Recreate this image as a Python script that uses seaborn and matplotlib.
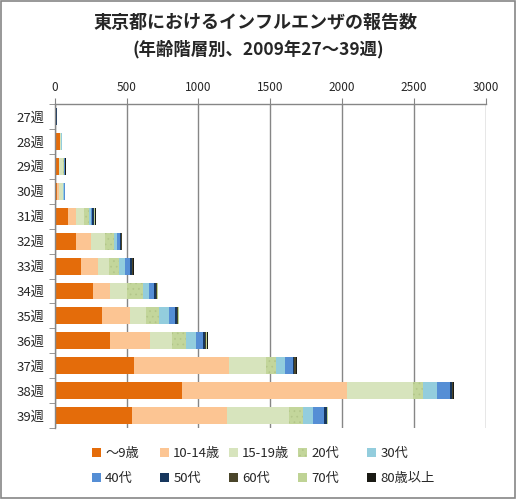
import numpy as np
import pandas as pd
import matplotlib
matplotlib.use("Agg")
import matplotlib.pyplot as plt
from matplotlib.patches import Patch, Rectangle
import seaborn as sns

# -------- data --------
weeks = ["27週", "28週", "29週", "30週", "31週", "32週", "33週",
         "34週", "35週", "36週", "37週", "38週", "39週"]
age_groups = ["～9歳", "10-14歳", "15-19歳", "20代", "30代",
              "40代", "50代", "60代", "70代", "80歳以上"]

under9 = [3, 37, 30, 16, 93, 148, 183, 267, 329, 385, 552, 886, 538]
age10_14 = [2, 1, 3, 14, 53, 105, 119, 118, 195, 279, 661, 1149, 661]
age15_19 = [2, 3, 25, 25, 56, 97, 76, 118, 112, 153, 258, 461, 430]
age20s = [2, 2, 5, 5, 37, 63, 70, 112, 90, 97, 69, 65, 99]
age30s = [2, 6, 5, 6, 14, 21, 42, 42, 70, 70, 63, 98, 70]
age40s = [1, 1, 2, 4, 8, 21, 34, 34, 42, 48, 56, 93, 77]
age50s = [1, 0, 1, 2, 10, 6, 14, 14, 16, 17, 4, 16, 18]
age60s = [4, 1, 4, 1, 6, 5, 4, 8, 4, 6, 14, 4, 4]
age70s = [1, 0, 0, 1, 3, 2, 4, 3, 5, 6, 2, 3, 2]
age80plus = [1, 0, 2, 1, 5, 3, 4, 6, 2, 6, 8, 2, 1]

colors = ["#E46C0A", "#FCC593", "#D7E4BD", "#C3D69B", "#93CDDD",
          "#558ED5", "#17375E", "#4A452A", "#BFD395", "#1A1A14"]
dot_color = "#B3C68A"

df = pd.DataFrame({"week": weeks})
for name, vals in zip(age_groups, [under9, age10_14, age15_19, age20s, age30s,
                                   age40s, age50s, age60s, age70s, age80plus]):
    df[name] = vals
cum = df[age_groups].cumsum(axis=1)

# -------- plot --------
sns.set_style("white")
plt.rcParams["font.family"] = ["Noto Sans CJK JP", "DejaVu Sans"]
plt.rcParams["hatch.linewidth"] = 0.5

fig = plt.figure(figsize=(5.16, 4.99), dpi=100)
ax = fig.add_axes([0.106, 0.142, 0.8353, 0.6496])

# stacked bars: draw cumulative totals from the largest down
for i in range(len(age_groups) - 1, -1, -1):
    kw = {}
    if age_groups[i] == "20代":
        kw = dict(hatch="...", edgecolor=dot_color)
    sns.barplot(x=cum[age_groups[i]], y=df["week"], orient="h",
                color=colors[i], width=0.68, linewidth=0,
                saturation=1, ax=ax, **kw)

ax.set_xlim(0, 3000)
ax.set_ylim(12.5, -0.5)
ax.set_xticks(np.arange(0, 3001, 500))
ax.xaxis.tick_top()
ax.tick_params(axis="x", labelsize=8.5, length=4, direction="out",
               color="#868686", pad=3, top=True, bottom=False)
ax.set_yticks(np.arange(-0.5, 12.6, 1), minor=True)
ax.tick_params(axis="y", which="minor", length=4, color="#868686", left=True)
ax.tick_params(axis="y", which="major", length=0, labelsize=9.5, pad=7)
ax.grid(axis="x", color="#868686", linewidth=1)
ax.set_axisbelow(True)
ax.set_xlabel("")
ax.set_ylabel("")
for s in ["right", "bottom"]:
    ax.spines[s].set_visible(False)
for s in ["top", "left"]:
    ax.spines[s].set_color("#868686")
    ax.spines[s].set_linewidth(1)

# title
fig.text(0.495, 0.955, "東京都におけるインフルエンザの報告数", ha="center",
         va="center", fontsize=13, fontweight="bold")
fig.text(0.50, 0.902, "(年齢階層別、2009年27～39週)", ha="center",
         va="center", fontsize=12.5, fontweight="bold")

# legend, 2 rows x 5 evenly spaced columns
handles = []
for i, name in enumerate(age_groups):
    if name == "20代":
        handles.append(Patch(facecolor=colors[i], edgecolor=dot_color,
                             hatch="...", linewidth=0, label=name))
    else:
        handles.append(Patch(facecolor=colors[i], linewidth=0, label=name))
col_x = [92, 160, 229, 298, 367]
for c in range(5):
    leg = fig.legend([handles[c], handles[c + 5]],
                     [age_groups[c], age_groups[c + 5]],
                     loc="center left", bbox_to_anchor=(col_x[c] / 516, 0.066),
                     frameon=False, fontsize=9.5, handlelength=0.7,
                     handleheight=0.7, handletextpad=0.3, labelspacing=0.95,
                     borderpad=0, borderaxespad=0)

# outer border
fig.patches.append(Rectangle((0.002, 0.002), 0.996, 0.996, transform=fig.transFigure,
                             fill=False, edgecolor="#868686", linewidth=1.2))

fig.savefig("out.png", dpi=100)
